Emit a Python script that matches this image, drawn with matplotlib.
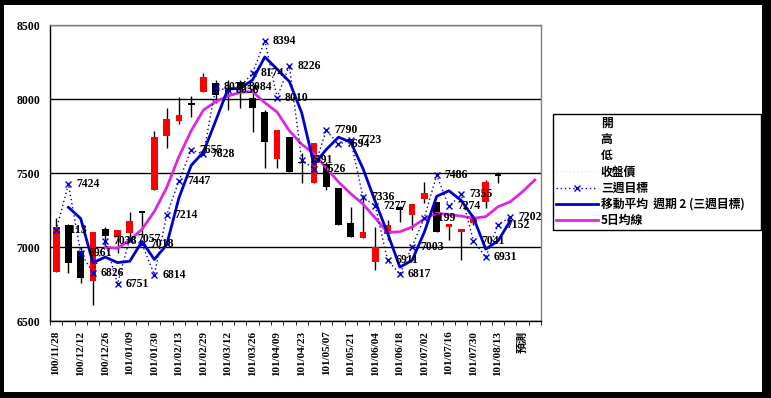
import matplotlib
matplotlib.use('Agg')
import matplotlib.pyplot as plt
from matplotlib.lines import Line2D
from matplotlib.patches import Rectangle
import numpy as np
import pandas as pd

# ---------------- data ----------------
tick_labels = ['100/11/28', '100/12/12', '100/12/26', '101/01/09', '101/01/30',
               '101/02/13', '101/02/29', '101/03/12', '101/03/26', '101/04/09',
               '101/04/23', '101/05/07', '101/05/21', '101/06/04', '101/06/18',
               '101/07/02', '101/07/16', '101/07/30', '101/08/13', '預測']

opens = [6833, 7149, 6975, 6772, 7122, 7066, 7097, 7240, 7385, 7752,
         7853, 7968, 8049, 8110, 8060, 8117, 8010, 7910, 7593, 7745,
         7575, 7434, 7560, 7397, 7160, 7063, 6901, 7085, 7272, 7218,
         7325, 7302, 7133, 7100, 7164, 7306, 7498]
highs = [7194, 7155, 6998, 7103, 7137, 7115, 7239, 7245, 7784, 7941,
         8011, 8020, 8178, 8128, 8130, 8128, 8070, 7925, 7791, 7745,
         7633, 7701, 7574, 7397, 7272, 7351, 7137, 7180, 7280, 7290,
         7441, 7306, 7155, 7120, 7215, 7453, 7509]
lows = [6833, 6826, 6755, 6608, 7002, 6959, 7036, 7070, 7385, 7671,
        7831, 7876, 8049, 7971, 7926, 7937, 7779, 7532, 7534, 7505,
        7430, 7434, 7385, 7149, 7070, 7063, 6845, 7050, 7171, 7115,
        7295, 7103, 7047, 6912, 7150, 7261, 7430]
closes = [7137, 6894, 6788, 7103, 7074, 7115, 7176, 7232, 7745, 7865,
          7892, 7962, 8151, 8027, 8050, 8072, 7937, 7711, 7791, 7510,
          7565, 7701, 7407, 7149, 7070, 7101, 6997, 7149, 7250, 7290,
          7366, 7103, 7155, 7120, 7206, 7441, 7480]

target = [7113, 7424, 6961, 6826, 7038, 6751, 7057, 7018, 6814, 7214,
          7447, 7655, 7628, 8078, 8058, 8084, 8174, 8394, 8010, 8226,
          7591, 7526, 7790, 7694, 7723, 7336, 7277, 6911, 6817, 7003,
          7199, 7486, 7274, 7355, 7041, 6931, 7152, 7202]

ma5_start = 4
ma5 = [6998, 6991, 7047, 7120, 7240, 7400, 7610, 7785, 7925, 7982,
       8020, 8045, 8050, 7975, 7912, 7785, 7695, 7630, 7535, 7440,
       7360, 7290, 7195, 7099, 7103, 7135, 7190, 7228, 7220, 7209,
       7194, 7205, 7272, 7306, 7374, 7453]

n_cat = 40

# ---------------- figure ----------------
W, H = 771, 398
fig = plt.figure(figsize=(W / 100, H / 100), dpi=100)
fig.patch.set_facecolor('black')
fig.add_artist(Rectangle((4 / W, 6 / H), (762 - 4) / W, (393 - 6) / H,
                         transform=fig.transFigure, facecolor='white',
                         edgecolor='none', zorder=-10))

ax = fig.add_axes([50 / W, 1 - 321 / H, (541 - 50) / W, (321 - 25) / H])
ax.set_facecolor('white')

serif = ['Liberation Serif', 'DejaVu Serif']
cjk = ['Noto Sans CJK TC', 'DejaVu Sans']

# candles
x_c = np.arange(len(opens))
o = np.array(opens); c = np.array(closes)
up = c >= o
body_lo = np.minimum(o, c)
body_h = np.maximum(np.abs(c - o), 8)
ax.vlines(x_c, lows, highs, color='black', lw=1, zorder=2)
ax.bar(x_c, body_h, bottom=body_lo, width=0.55,
       color=np.where(up, '#FF0000', '#000000'), edgecolor='none', zorder=3)

# three-week target (dotted, x markers)
x_t = np.arange(len(target))
ax.plot(x_t, target, linestyle=(0, (1, 2)), color='#0000CC', lw=1,
        marker='x', markersize=5, markeredgewidth=1, zorder=5)
# moving-average trendline (period 2) of the target series
ma2 = pd.Series(target).rolling(2).mean()
ax.plot(x_t, ma2, color='#0000CC', lw=2, zorder=5)
# 5-day average
x_m = np.arange(ma5_start, ma5_start + len(ma5))
ax.plot(x_m, ma5, color='#DC28DC', lw=2, zorder=4)

# data labels
for i, v in enumerate(target):
    ax.annotate(str(v), (i, v), xytext=(8, 0), textcoords='offset pixels',
                ha='left', va='center', fontsize=8.5, fontweight='bold',
                family=serif, color='black', zorder=7, annotation_clip=False)

# axes
ax.set_xlim(-0.5, n_cat - 0.5)
ax.set_ylim(6500, 8500)
ax.set_yticks([6500, 7000, 7500, 8000, 8500])
ax.set_yticklabels(['6500', '7000', '7500', '8000', '8500'],
                   fontsize=8.5, fontweight='bold', family=serif)
ax.tick_params(axis='y', length=0, pad=7)
ax.grid(axis='y', color='black', lw=1, zorder=1)
ax.set_axisbelow(True)

ax.set_xticks(np.arange(0, n_cat, 2))
ax.set_xticklabels(tick_labels, rotation=90, fontsize=8, fontweight='bold',
                   family=['Liberation Serif', 'Noto Sans CJK TC'])
ax.set_xticks(np.arange(-0.5, n_cat, 1), minor=True)
ax.tick_params(axis='x', which='major', length=0, pad=7)
ax.tick_params(axis='x', which='minor', length=3, direction='out', color='black')

for s in ['left', 'bottom']:
    ax.spines[s].set_color('black'); ax.spines[s].set_linewidth(1)
for s in ['top', 'right']:
    ax.spines[s].set_color('#808080'); ax.spines[s].set_linewidth(1)

# legend
handles = [
    Line2D([], [], linestyle='none'),
    Line2D([], [], linestyle='none'),
    Line2D([], [], linestyle='none'),
    Line2D([], [], color='#F5F0A0', lw=1, linestyle=(0, (1, 2))),
    Line2D([], [], color='#0000CC', lw=1, linestyle=(0, (1, 2)), marker='x',
           markersize=5, markeredgewidth=1),
    Line2D([], [], color='#0000CC', lw=2),
    Line2D([], [], color='#DC28DC', lw=2),
]
names = ['開', '高', '低', '收盤價', '三週目標', '移動平均  週期 2 (三週目標)', '5日均線']
leg = ax.legend(handles, names, loc='upper left',
                bbox_to_anchor=(553 / W, 1 - 118 / H, 208 / W, 0.01),
                bbox_transform=fig.transFigure, mode='expand',
                prop={'family': cjk, 'size': 8.5, 'weight': 'bold'},
                frameon=True, fancybox=False, edgecolor='black',
                framealpha=1, borderpad=0.25, borderaxespad=0,
                handlelength=3.6, handletextpad=0.2, labelspacing=0.27)
leg.get_frame().set_linewidth(1)

fig.savefig('out.png', dpi=100, facecolor=fig.get_facecolor())
